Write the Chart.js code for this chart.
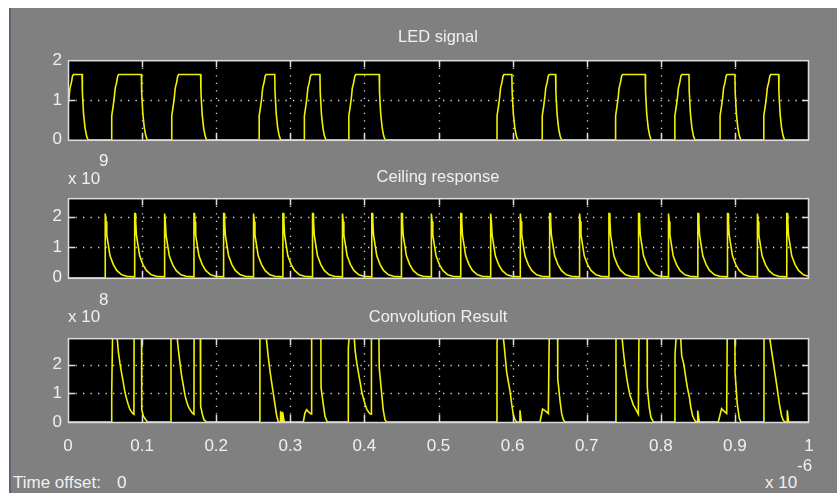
<!DOCTYPE html>
<html>
<head>
<meta charset="utf-8">
<script src="https://cdn.jsdelivr.net/npm/chart.js@4.4.1/dist/chart.umd.min.js"></script>
<style>
  body { margin: 0; width: 837px; height: 493px; overflow: hidden; position: relative; background: #fff;
         font-family: "Liberation Sans", Arial, sans-serif; }
  #panel { position: absolute; left: 9px; top: 8px; right: 0; bottom: 0; background: #808080; border-left: 2px solid #5a6676; }
  canvas { position: absolute; left: 0; }
  .t { position: absolute; color: #f0f0f0; font-size: 17px; line-height: 17px; white-space: nowrap; z-index: 2; }
  .title { font-size: 16.5px; width: 300px; text-align: center; left: 288px; }
</style>
</head>
<body>
<div id="panel"></div>
<canvas id="led" width="837" height="112" style="top:44px"></canvas>
<canvas id="ceil" width="837" height="112" style="top:182px"></canvas>
<canvas id="conv" width="837" height="140" style="top:322px"></canvas>

<div class="t title" style="top:28px">LED signal</div>
<div class="t title" style="top:168px">Ceiling response</div>
<div class="t title" style="top:308px">Convolution Result</div>

<div class="t" style="left:68px;top:170px">x 10</div>
<div class="t" style="left:99px;top:152px">9</div>
<div class="t" style="left:68px;top:308px">x 10</div>
<div class="t" style="left:99px;top:291px">8</div>
<div class="t" style="left:765px;top:474px">x 10</div>
<div class="t" style="left:797px;top:457px">-6</div>
<div class="t" style="left:13px;top:474px">Time offset:</div>
<div class="t" style="left:117px;top:474px">0</div>

<script>
// --- AXES ---
const xTicks = [0, 0.1, 0.2, 0.3, 0.4, 0.5, 0.6, 0.7, 0.8, 0.9, 1];
const xTickLabels = ['0', '0.1', '0.2', '0.3', '0.4', '0.5', '0.6', '0.7', '0.8', '0.9', '1'];
const ledTicks = [0, 1, 2];
const ceilTicks = [0, 1, 2];   // x 10^9
const convTicks = [0, 1, 2];   // x 10^8
const ledMax = 2, ceilMax = 2.6, convMax = 2.93;

// --- LED SIGNAL (time in units of 1e-6 s) ---
const ledOn  = [-0.002, 0.059, 0.140, 0.258, 0.319, 0.379, 0.579, 0.640, 0.739, 0.819, 0.880, 0.939];
const ledOff = [0.019, 0.099, 0.179, 0.279, 0.340, 0.420, 0.599, 0.658, 0.779, 0.838, 0.900, 0.959];
const ledRise = [[0, 0], [0, 0.6], [0.002, 0.85], [0.0034, 1.05], [0.0047, 1.3], [0.0067, 1.45], [0.0081, 1.6], [0.0094, 1.64]];
const ledFall = [[0, 1.64], [0.0004, 1.2], [0.002, 0.65], [0.004, 0.3], [0.006, 0.1], [0.008, 0]];

// --- CEILING RESPONSE (x 10^9) ---
const ceilSpikes = [0.05, 0.09, 0.13, 0.17, 0.21, 0.25, 0.29, 0.33, 0.37, 0.41, 0.45, 0.49,
                    0.53, 0.57, 0.61, 0.65, 0.69, 0.73, 0.77, 0.81, 0.85, 0.89, 0.93, 0.97];
const ceilDecay = [[0, 0.03], [0, 2.1], [0.0008, 2.1], [0.0014, 1.84], [0.0023, 1.4], [0.0045, 1.06],
                   [0.0067, 0.72], [0.0112, 0.43], [0.0158, 0.24], [0.0225, 0.1], [0.0293, 0.05], [0.0395, 0.03]];

// --- CONVOLUTION RESULT (x 10^8), values above 2.93 run off the top ---
const convPoints = [
  [0, 0], [0.0589, 0], [0.059, 1.03], [0.0603, 3.3], [0.0652, 3.3], [0.0679, 2.47], [0.0702, 2.03], [0.0724, 1.7],
  [0.0747, 1.37], [0.0769, 1.03], [0.0792, 0.8], [0.0814, 0.6], [0.0837, 0.43], [0.0873, 0.3], [0.089, 0.27],
  [0.0892, 3.3], [0.0992, 3.3], [0.0995, 0.43], [0.1017, 0.2], [0.1062, 0.03], [0.1084, 0],
  [0.1389, 0], [0.139, 3.3], [0.146, 3.3], [0.1489, 2.54], [0.1512, 2.04], [0.1534, 1.6], [0.1557, 1.27],
  [0.1579, 0.93], [0.1602, 0.71], [0.1624, 0.54], [0.1647, 0.43], [0.1682, 0.3], [0.17, 0.27], [0.1702, 3.3],
  [0.1785, 3.3], [0.179, 0.55], [0.1815, 0.25], [0.1835, 0.08], [0.187, 0],
  [0.2589, 0], [0.259, 3.3], [0.2662, 3.3], [0.2703, 2.27], [0.2726, 1.78], [0.2749, 1.38], [0.2771, 0.99],
  [0.2794, 0.6], [0.2817, 0.21], [0.2839, 0],
  [0.2868, 0], [0.2869, 0.38], [0.2889, 0], [0.2895, 0], [0.2896, 0.35], [0.2918, 0],
  [0.3176, 0], [0.3198, 0.32], [0.3221, 0.43], [0.3243, 0.36], [0.328, 0.28], [0.3288, 3.3], [0.3412, 3.3],
  [0.3415, 1.2], [0.3446, 0.6], [0.3468, 0.2], [0.3499, 0],
  [0.3782, 0], [0.3783, 2.6], [0.3805, 3.3], [0.3853, 3.3], [0.3876, 2.47], [0.3899, 2.03], [0.3921, 1.7],
  [0.3944, 1.37], [0.3966, 1.03], [0.3989, 0.8], [0.4011, 0.6], [0.4034, 0.43], [0.407, 0.3], [0.4092, 0.27],
  [0.4095, 3.3], [0.4195, 3.3], [0.42, 1.9], [0.4233, 1.0], [0.4255, 0.41], [0.4278, 0.08], [0.4301, 0],
  [0.5789, 0], [0.579, 2.8], [0.5817, 3.3], [0.586, 3.3], [0.5888, 2.63], [0.592, 1.74], [0.5965, 1.08],
  [0.5988, 0.63], [0.601, 0.24], [0.6032, 0.08], [0.6055, 0],
  [0.6099, 0], [0.61, 0.41], [0.6117, 0],
  [0.637, 0], [0.6405, 0.45], [0.6437, 0.4], [0.6482, 0.3], [0.6496, 3.3], [0.6607, 3.3], [0.6609, 1.52],
  [0.664, 0.74], [0.6662, 0.3], [0.6684, 0.08], [0.6707, 0],
  [0.7394, 0], [0.7395, 3.3], [0.7465, 3.3], [0.7494, 2.49], [0.7517, 1.99], [0.754, 1.54], [0.7562, 1.21],
  [0.7584, 0.93], [0.7607, 0.77], [0.7629, 0.6], [0.7665, 0.43], [0.7697, 0.27], [0.7706, 3.3], [0.7815, 3.3],
  [0.7818, 1.21], [0.7845, 0.49], [0.7868, 0.15], [0.79, 0],
  [0.8191, 0], [0.8192, 2.36], [0.8215, 3.3], [0.826, 3.3], [0.8282, 2.32], [0.8313, 1.99], [0.8331, 1.65],
  [0.8358, 1.21], [0.8385, 0.88], [0.8407, 0.49], [0.843, 0.21], [0.8462, 0.04], [0.8475, 0],
  [0.8497, 0], [0.8498, 0.4], [0.8521, 0],
  [0.8776, 0], [0.882, 0.47], [0.8845, 0.4], [0.8889, 0.3], [0.8897, 3.3], [0.9, 3.3], [0.9002, 1.74],
  [0.9032, 0.63], [0.9059, 0.13], [0.9082, 0],
  [0.9392, 0], [0.9393, 3.3], [0.946, 3.3], [0.9474, 2.86], [0.9519, 2.08], [0.9564, 1.3], [0.96, 0.63],
  [0.9631, 0.21], [0.9653, 0.06], [0.9676, 0], [0.9706, 0], [0.9707, 0.41], [0.9725, 0], [1, 0]
];

// --- BUILD SERIES ---
function buildLed() {
  const pts = [];
  ledOn.forEach((t0, i) => {
    ledRise.forEach(([d, v]) => pts.push({ x: t0 + d, y: v }));
    ledFall.forEach(([d, v]) => pts.push({ x: ledOff[i] + d, y: v }));
  });
  pts.push({ x: 1, y: 0 });
  return pts;
}

function buildCeil() {
  const pts = [{ x: 0, y: 0 }, { x: ceilSpikes[0], y: 0 }];
  ceilSpikes.forEach(t0 => ceilDecay.forEach(([d, v]) => pts.push({ x: t0 + d, y: v })));
  return pts;
}

const convData = convPoints.map(([x, y]) => ({ x, y }));

// --- SCOPE LOOK: black plot, dotted grid, inner ticks, frame ---
const scopeAxes = {
  id: 'scopeAxes',
  beforeDraw(chart) {
    const { ctx, chartArea: a } = chart;
    ctx.save();
    ctx.fillStyle = '#000';
    ctx.fillRect(a.left, a.top, a.right - a.left, a.bottom - a.top);
    ctx.restore();
  },
  beforeDatasetsDraw(chart) {
    const { ctx, chartArea: a, scales: { x, y } } = chart;
    ctx.save();
    ctx.strokeStyle = '#d8d8d8';
    ctx.lineWidth = 1.3;
    ctx.setLineDash([1.3, 6.2]);
    xTicks.forEach(v => {
      if (v <= x.min || v >= x.max) return;
      const px = Math.round(x.getPixelForValue(v)) + 0.5;
      ctx.beginPath(); ctx.moveTo(px, a.top); ctx.lineTo(px, a.bottom); ctx.stroke();
    });
    y.ticks.forEach(t => {
      if (t.value <= y.min || t.value >= y.max) return;
      const py = Math.round(y.getPixelForValue(t.value)) + 0.5;
      ctx.beginPath(); ctx.moveTo(a.left, py); ctx.lineTo(a.right, py); ctx.stroke();
    });
    ctx.restore();
  },
  afterDraw(chart) {
    const { ctx, chartArea: a, scales: { x, y } } = chart;
    const len = 7;
    ctx.save();
    ctx.strokeStyle = '#dcdcdc';
    ctx.lineWidth = 1.5;
    xTicks.forEach(v => {
      if (v <= x.min || v >= x.max) return;
      const px = Math.round(x.getPixelForValue(v)) + 0.5;
      ctx.beginPath();
      ctx.moveTo(px, a.top); ctx.lineTo(px, a.top + len);
      ctx.moveTo(px, a.bottom); ctx.lineTo(px, a.bottom - len);
      ctx.stroke();
    });
    y.ticks.forEach(t => {
      if (t.value <= y.min || t.value >= y.max) return;
      const py = Math.round(y.getPixelForValue(t.value)) + 0.5;
      ctx.beginPath();
      ctx.moveTo(a.left, py); ctx.lineTo(a.left + len, py);
      ctx.moveTo(a.right, py); ctx.lineTo(a.right - len, py);
      ctx.stroke();
    });
    ctx.strokeRect(a.left + 0.5, a.top + 0.5, a.right - a.left - 1, a.bottom - a.top);
    ctx.restore();
  }
};

const tickFont = { family: "'Liberation Sans', Arial, sans-serif", size: 17 };

function makeScope(id, data, yMax, yTicks, padTop, padBottom, showX) {
  return new Chart(document.getElementById(id), {
    type: 'line',
    data: { datasets: [{ data, borderColor: '#f2f200', borderWidth: 1.6, pointRadius: 0, tension: 0 }] },
    options: {
      responsive: false,
      devicePixelRatio: 1,
      animation: false,
      events: [],
      layout: { padding: { left: 0, right: 28, top: padTop, bottom: padBottom } },
      plugins: { legend: { display: false }, tooltip: { enabled: false } },
      scales: {
        x: {
          type: 'linear', min: 0, max: 1,
          afterBuildTicks: s => { s.ticks = xTicks.map(v => ({ value: v })); },
          afterFit: s => { s.height = showX ? 30 : 0; },
          grid: { display: false },
          border: { display: false },
          ticks: { display: showX, autoSkip: false, maxRotation: 0, padding: 6, color: '#f0f0f0', font: tickFont,
                   callback: (v, i) => xTickLabels[i] }
        },
        y: {
          min: 0, max: yMax,
          afterBuildTicks: s => { s.ticks = yTicks.map(v => ({ value: v })); },
          afterFit: s => { s.width = 68; },
          grid: { display: false, drawTicks: false },
          border: { display: false },
          ticks: { padding: 6, color: '#f0f0f0', font: tickFont, callback: v => String(v) }
        }
      }
    },
    plugins: [scopeAxes]
  });
}

makeScope('led', buildLed(), ledMax, ledTicks, 11, 10, false);
makeScope('ceil', buildCeil(), ceilMax, ceilTicks, 11, 11, false);
makeScope('conv', convData, convMax, convTicks, 11, 10, true);
</script>
</body>
</html>
